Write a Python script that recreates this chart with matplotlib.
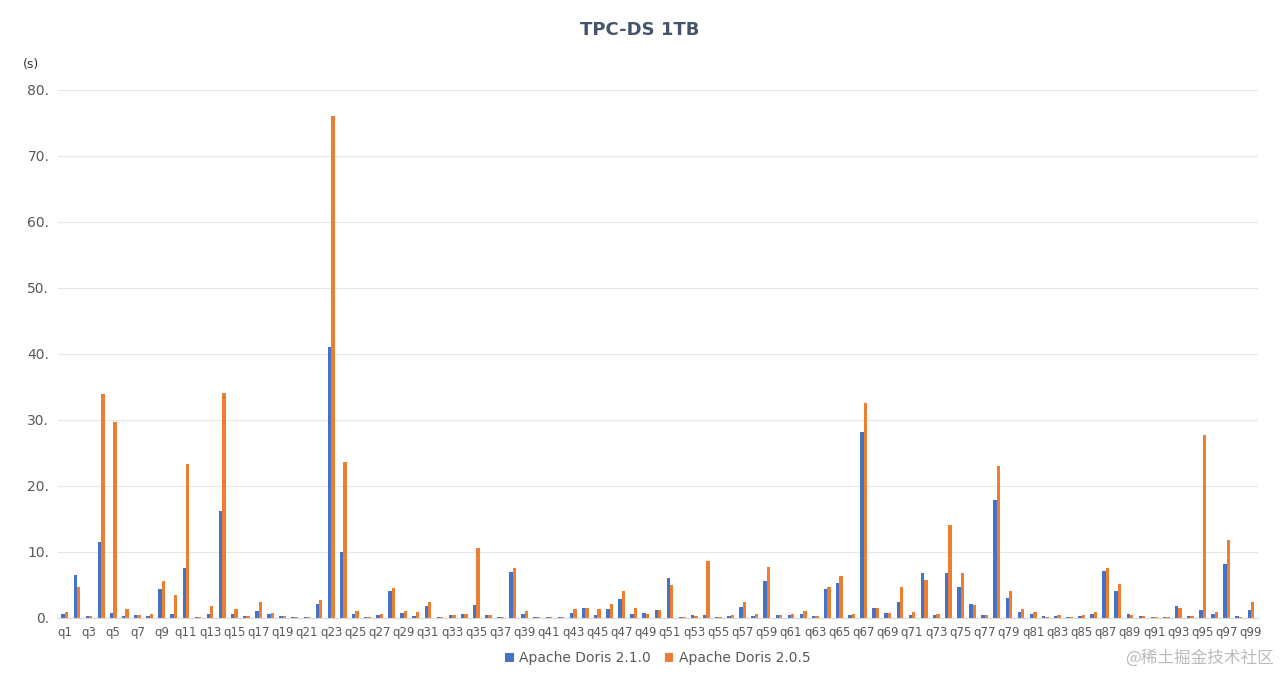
import numpy as np
import matplotlib.pyplot as plt

queries = ['q%d' % i for i in range(1, 100)]
doris_210 = [0.6, 6.4, 0.2, 11.4, 0.7, 0.3, 0.4, 0.3, 4.3, 0.5,
             7.5, 0.1, 0.6, 16.2, 0.5, 0.3, 1.0, 0.6, 0.3, 0.1,
             0.1, 2.0, 41.0, 9.9, 0.6, 0.1, 0.4, 4.0, 0.7, 0.3,
             1.7, 0.1, 0.4, 0.6, 1.9, 0.4, 0.1, 6.9, 0.6, 0.1,
             0.1, 0.1, 0.7, 1.4, 0.4, 1.3, 2.8, 0.6, 0.7, 1.1,
             6.0, 0.1, 0.4, 0.4, 0.1, 0.3, 1.6, 0.3, 5.5, 0.4,
             0.4, 0.6, 0.3, 4.3, 5.3, 0.4, 28.1, 1.4, 0.7, 2.3,
             0.4, 6.7, 0.4, 6.7, 4.7, 2.1, 0.4, 17.8, 3.0, 0.9,
             0.6, 0.3, 0.3, 0.1, 0.3, 0.6, 7.1, 4.1, 0.6, 0.2,
             0.1, 0.1, 1.8, 0.3, 1.1, 0.5, 8.2, 0.3, 1.1]
doris_205 = [0.9, 4.7, 0.2, 33.9, 29.6, 1.3, 0.4, 0.6, 5.5, 3.4,
             23.3, 0.1, 1.7, 34.0, 1.3, 0.3, 2.4, 0.7, 0.3, 0.1,
             0.1, 2.6, 76.0, 23.6, 1.0, 0.1, 0.6, 4.5, 1.0, 0.8,
             2.3, 0.1, 0.4, 0.6, 10.5, 0.4, 0.1, 7.5, 1.0, 0.1,
             0.1, 0.1, 1.3, 1.4, 1.3, 2.0, 4.0, 1.4, 0.5, 1.1,
             4.9, 0.1, 0.3, 8.6, 0.1, 0.4, 2.3, 0.6, 7.7, 0.4,
             0.6, 1.0, 0.3, 4.7, 6.3, 0.6, 32.5, 1.4, 0.7, 4.7,
             0.8, 5.7, 0.6, 14.1, 6.7, 1.9, 0.4, 23.0, 4.0, 1.3,
             0.9, 0.1, 0.4, 0.1, 0.4, 0.9, 7.5, 5.1, 0.4, 0.3,
             0.1, 0.1, 1.4, 0.3, 27.7, 0.9, 11.7, 0.1, 2.3]
y_ticks = [0, 10, 20, 30, 40, 50, 60, 70, 80]

blue = '#4472C4'
orange = '#ED7D31'
grey = '#595959'

fig = plt.figure(figsize=(12.8, 6.75), dpi=100)
ax = fig.add_axes([0.045, 0.085, 0.938, 0.782])

x = np.arange(len(queries))
w = 0.28
ax.bar(x - w / 2, doris_210, w, color=blue, label='Apache Doris 2.1.0')
ax.bar(x + w / 2, doris_205, w, color=orange, label='Apache Doris 2.0.5')

ax.set_xlim(-0.6, len(queries) - 0.4)
ax.set_ylim(0, 80)
ax.set_yticks(y_ticks)
ax.set_yticklabels(['%d.' % v for v in y_ticks])
ax.set_xticks(x[::2])
ax.set_xticklabels(queries[::2])
ax.tick_params(axis='y', length=0, labelsize=10, colors=grey, pad=6)
ax.tick_params(axis='x', length=0, labelsize=8.5, colors=grey, pad=6)
ax.grid(axis='y', color='#E6E6E6', linewidth=0.8)
ax.set_axisbelow(True)
for s in ['top', 'right', 'left']:
    ax.spines[s].set_visible(False)
ax.spines['bottom'].set_color('#D9D9D9')

fig.text(0.5, 0.955, 'TPC-DS 1TB', ha='center', va='center',
         fontsize=13, fontweight='bold', color='#44546A')
fig.text(0.024, 0.905, '(s)', ha='center', va='center', fontsize=9, color='#333333')
ax.legend(loc='upper center', bbox_to_anchor=(0.5, -0.04), ncol=2, frameon=False,
          fontsize=10, handlelength=0.6, handleheight=0.6, columnspacing=1.0,
          handletextpad=0.4, labelcolor=grey)
fig.text(0.995, 0.025, '@稀土掘金技术社区', ha='right', va='center', fontsize=12,
         color='#BBBBBB', family='Noto Sans CJK SC')

fig.savefig('out.png', dpi=100)
